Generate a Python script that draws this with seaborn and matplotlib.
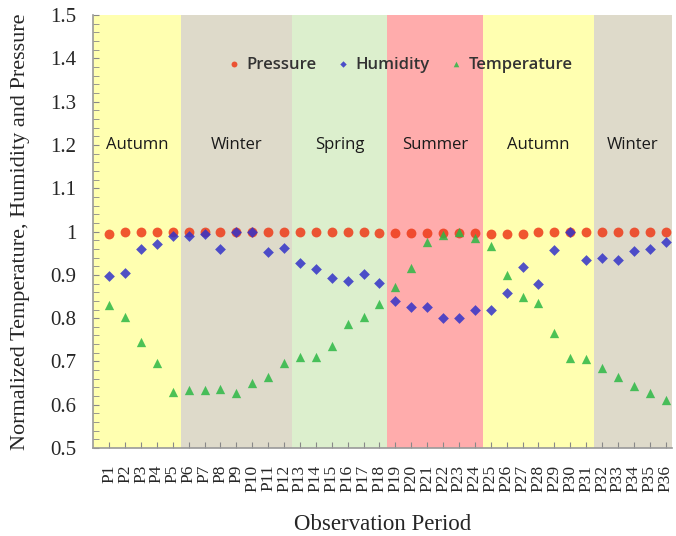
import numpy as np
import pandas as pd
import matplotlib
matplotlib.use("Agg")
import matplotlib.pyplot as plt
from matplotlib.ticker import MultipleLocator
import seaborn as sns

periods = [f"P{i}" for i in range(1, 37)]
pressure = [0.995, 1.0, 1.0, 1.0, 1.0, 1.0, 1.0, 1.0, 1.0, 1.0, 1.0, 1.0,
            1.0, 1.0, 1.0, 1.0, 1.0, 0.996, 0.996, 0.996, 0.996, 0.996, 0.996, 0.996,
            0.995, 0.995, 0.995, 1.0, 1.0, 1.0, 1.0, 1.0, 1.0, 1.0, 1.0, 1.0]
humidity = [0.898, 0.905, 0.96, 0.972, 0.99, 0.99, 0.995, 0.96, 0.998, 0.998, 0.952, 0.962,
            0.928, 0.913, 0.893, 0.885, 0.902, 0.882, 0.84, 0.826, 0.826, 0.8, 0.8, 0.82,
            0.82, 0.857, 0.917, 0.878, 0.958, 0.998, 0.935, 0.94, 0.935, 0.955, 0.96, 0.977]
temperature = [0.83, 0.803, 0.745, 0.696, 0.63, 0.633, 0.633, 0.636, 0.627, 0.65, 0.665, 0.697,
               0.71, 0.71, 0.735, 0.787, 0.803, 0.832, 0.873, 0.915, 0.975, 0.992, 0.998, 0.985,
               0.967, 0.9, 0.848, 0.835, 0.765, 0.708, 0.705, 0.685, 0.665, 0.644, 0.627, 0.612]
season_names = ["Autumn", "Winter", "Spring", "Summer", "Autumn", "Winter"]
season_bounds = [0.0, 5.5, 12.5, 18.5, 24.5, 31.5, 36.4]
season_colors = ["#FFFFB0", "#DEDACA", "#DCEFCD", "#FFACAC", "#FFFFB0", "#DEDACA"]

idx = np.arange(1, 37)
df = pd.DataFrame({"idx": idx, "Pressure": pressure, "Humidity": humidity,
                   "Temperature": temperature})
long = df.melt(id_vars="idx", var_name="series", value_name="value")

sns.set_style("white")
fig = plt.figure(figsize=(6.76, 5.36), dpi=100)
ax = fig.add_axes([0.138, 0.164, 0.856, 0.808])

for i, name in enumerate(season_names):
    ax.axvspan(season_bounds[i], season_bounds[i + 1], color=season_colors[i], zorder=0, lw=0)
    ax.text((season_bounds[i] + season_bounds[i + 1]) / 2, 1.2, name,
            ha="center", va="center", fontsize=12, family=["Open Sans", "DejaVu Sans"],
            color="#1a1a1a", zorder=1)

palette = {"Pressure": "#EE3A18", "Humidity": "#3232C8", "Temperature": "#2DB845"}
markers = {"Pressure": "o", "Humidity": "D", "Temperature": "^"}
sizes_map = {"Pressure": 50, "Humidity": 30, "Temperature": 45}
for s in ["Pressure", "Humidity", "Temperature"]:
    sub = long[long.series == s]
    sns.scatterplot(data=sub, x="idx", y="value", color=palette[s], marker=markers[s],
                    s=sizes_map[s], linewidth=0, alpha=0.85, ax=ax, label=s, zorder=3)

ax.set_xlim(0, 36.4)
ax.set_ylim(0.5, 1.5)
ax.set_xticks(idx)
ax.set_xticklabels(periods, rotation=90, family="Liberation Serif", fontsize=12.5)
ax.set_yticks(np.arange(0.5, 1.51, 0.1))
ax.set_yticklabels(["0.5", "0.6", "0.7", "0.8", "0.9", "1", "1.1", "1.2", "1.3", "1.4", "1.5"],
                   family="Liberation Serif", fontsize=15)
ax.yaxis.set_minor_locator(MultipleLocator(0.02))
ax.tick_params(axis="y", which="both", direction="in", length=4, color="#888888", left=True, pad=12)
ax.tick_params(axis="x", which="major", direction="in", length=4, color="#888888", bottom=True, pad=12)
for sp in ["top", "right"]:
    ax.spines[sp].set_visible(False)
for sp in ["left", "bottom"]:
    ax.spines[sp].set_color("#999999")
    ax.spines[sp].set_linewidth(1.2)
ax.set_xlabel("Observation Period", family="Liberation Serif", fontsize=16.5, labelpad=16)
ax.set_ylabel("Normalized Temperature, Humidity and Pressure", family="Liberation Serif",
              fontsize=16, labelpad=15)

leg = ax.legend(loc="center", bbox_to_anchor=(0.53, 0.885), ncol=3, frameon=False,
                handlelength=0.8, handletextpad=0.35, columnspacing=1.2, markerscale=0.6,
                prop={"family": ["Open Sans", "DejaVu Sans"], "size": 12, "weight": "semibold"})
for t in leg.get_texts():
    t.set_color("#333333")

fig.savefig("out.png", dpi=100)
